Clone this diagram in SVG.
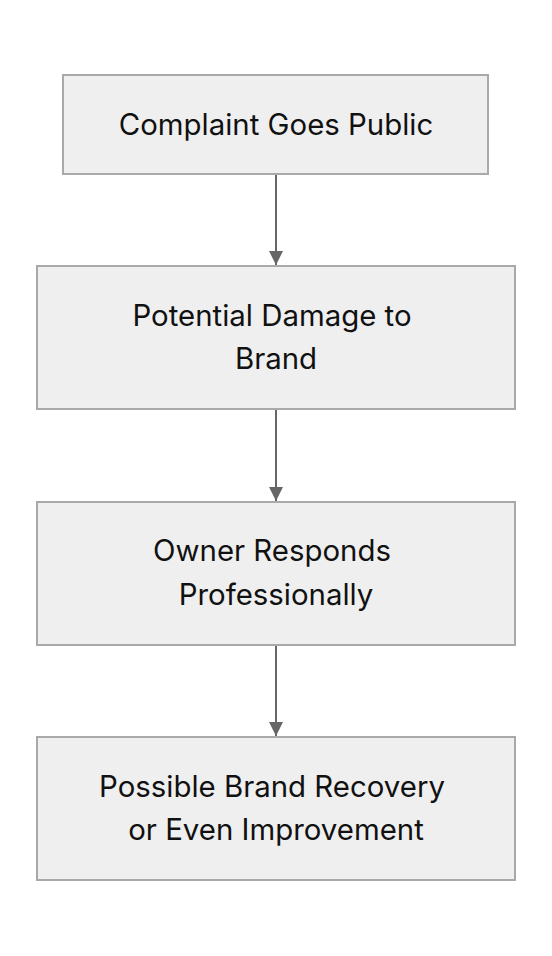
<svg xmlns="http://www.w3.org/2000/svg" width="552" height="956" viewBox="0 0 552 956">
<style>
.box{fill:#efefef;stroke:#a9a9a9;stroke-width:2}
.lbl{font-family:Inter,"Noto Sans",sans-serif;font-size:29.4px;fill:#111;text-anchor:middle}
.edge{stroke:#666;stroke-width:2;fill:none}
</style>
<defs>
<marker id="arr" viewBox="0 0 10 10" refX="10" refY="5" markerWidth="14" markerHeight="14" markerUnits="userSpaceOnUse" orient="auto">
<path d="M0,0 L10,5 L0,10 z" fill="#666"/>
</marker>
</defs>
<rect width="552" height="956" fill="#fff"/>
<g id="connectors">
<line class="edge" x1="276" y1="175" x2="276" y2="265" marker-end="url(#arr)"/>
<line class="edge" x1="276" y1="410" x2="276" y2="501" marker-end="url(#arr)"/>
<line class="edge" x1="276" y1="646" x2="276" y2="736" marker-end="url(#arr)"/>
</g>
<g id="n1">
<rect class="box" x="63" y="75" width="425" height="99"/>
<text class="lbl" x="276" y="135">Complaint Goes Public</text>
</g>
<g id="n2">
<rect class="box" x="37" y="266" width="478" height="143"/>
<text class="lbl" x="272" y="326">Potential Damage to</text>
<text class="lbl" x="276" y="369">Brand</text>
</g>
<g id="n3">
<rect class="box" x="37" y="502" width="478" height="143"/>
<text class="lbl" x="272" y="561">Owner Responds</text>
<text class="lbl" x="276" y="605">Professionally</text>
</g>
<g id="n4">
<rect class="box" x="37" y="737" width="478" height="143"/>
<text class="lbl" x="272" y="797">Possible Brand Recovery</text>
<text class="lbl" x="276" y="840">or Even Improvement</text>
</g>
</svg>
